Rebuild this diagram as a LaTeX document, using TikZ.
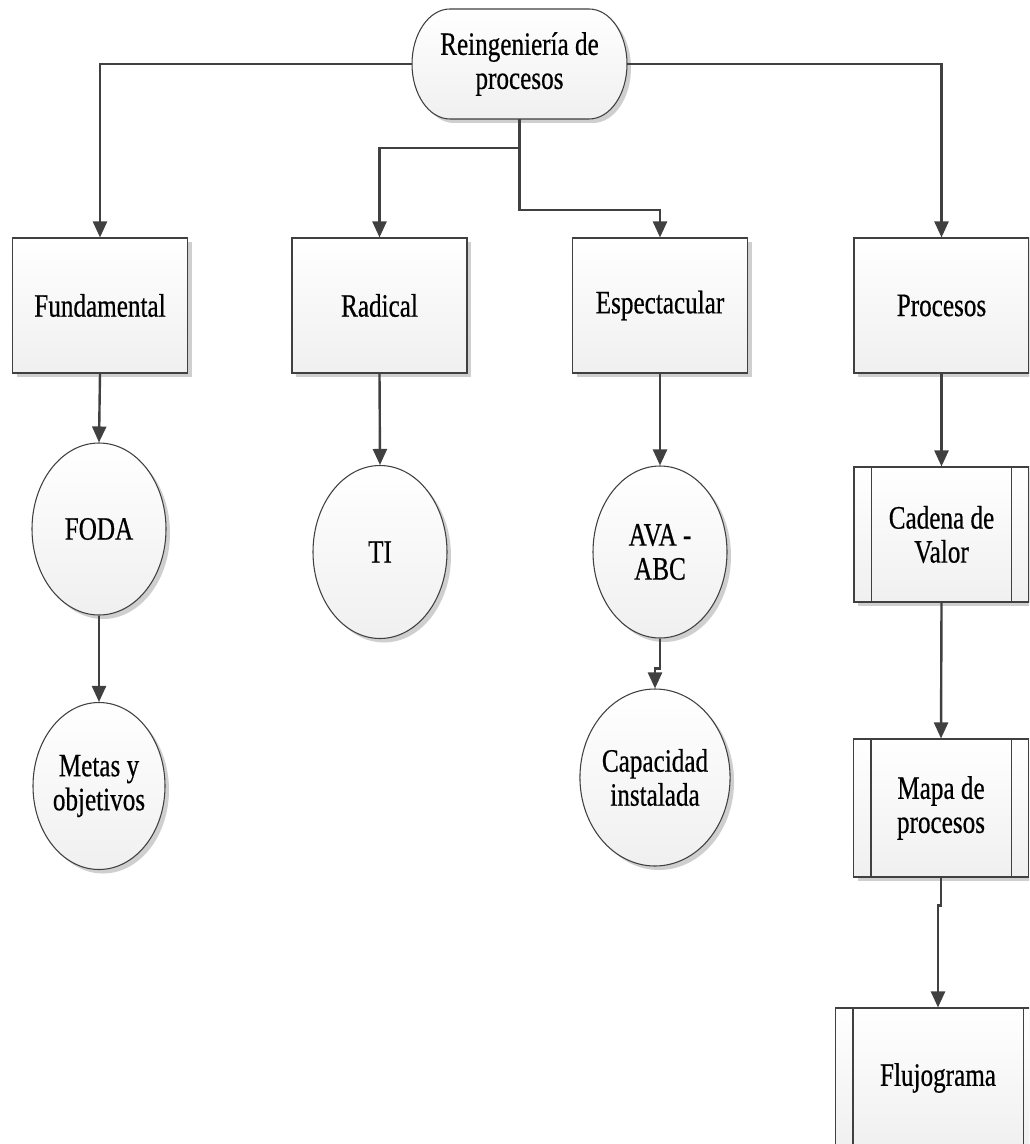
\documentclass[tikz,border=0pt]{standalone}
\usepackage{fontspec}
\setmainfont{Liberation Serif}[FakeStretch=0.77,FakeBold=0.5]
\usetikzlibrary{shapes.geometric,shadows,arrows.meta}
\definecolor{edge}{HTML}{404040}
\definecolor{shadowgray}{HTML}{CFCFCF}
\begin{document}
\begin{tikzpicture}[x=0.75pt,y=-0.75pt,
  every node/.style={font=\fontsize{24.5}{25.5}\selectfont, align=center, inner sep=0pt},
  shapeline/.style={draw=edge, line width=0.8pt, top color=white, bottom color=gray!12,
    drop shadow={shadow xshift=3pt, shadow yshift=-3pt, fill=shadowgray, opacity=1}},
  stepbox/.style={shapeline, rectangle, minimum width=131.25pt, minimum height=101.25pt},
  oval/.style={shapeline, ellipse},
  innerline/.style={draw=edge, line width=0.8pt},
  conn/.style={draw=edge, line width=1.8pt, -{Triangle[width=10.5pt,length=12pt]}},
  link/.style={draw=edge, line width=1.8pt}
]
\useasboundingbox (0,0) rectangle (1029,1144);
\clip (0,0) rectangle (1029,1144);

% terminal shape at the top
\path[shapeline] (450,9) -- (589,9)
  arc[start angle=90,end angle=-90,x radius=28.5pt,y radius=41.25pt]
  -- (450,119)
  arc[start angle=270,end angle=90,x radius=28.5pt,y radius=41.25pt] -- cycle;
\node (top) at (519.5,64) [minimum width=161.25pt, minimum height=82.5pt] {Reingeniería de\\procesos};

% second row
\node[stepbox] (fund) at (100,305.5) {Fundamental};
\node[stepbox] (rad)  at (379.5,305.5) {Radical};
\node[stepbox] (esp)  at (660,305.5) {Espectacular};
\node[stepbox] (proc) at (941.5,305.5) {Procesos};

% ovals
\node[oval, minimum width=100.5pt, minimum height=129pt] (foda) at (99,529) {FODA};
\node[oval, minimum width=99pt, minimum height=125.25pt] (metas) at (99,786) {Metas y\\objetivos};
\node[oval, minimum width=100.5pt, minimum height=129.75pt] (ti) at (380,552) {TI};
\node[oval, minimum width=100.5pt, minimum height=129pt] (ava) at (660,552) {AVA -\\ABC};
\node[oval, minimum width=112pt, minimum height=132.75pt] (cap) at (655,777.5) {Capacidad\\instalada};

% sub-process boxes
\node[stepbox] (cad)  at (941.5,534.5) {Cadena de\\Valor};
\node[stepbox, minimum height=103.5pt] (mapa) at (941,808) {Mapa de\\procesos};
\node[stepbox, minimum width=153.75pt, minimum height=105pt] (flu) at (938,1078) {Flujograma};
\foreach \n in {cad,mapa,flu}{
  \draw[innerline] ([xshift=13.5pt]\n.north west) -- ([xshift=13.5pt]\n.south west);
  \draw[innerline] ([xshift=-13.5pt]\n.north east) -- ([xshift=-13.5pt]\n.south east);
}

% connectors
\coordinate (j1) at (519.5,148);
\coordinate (j2) at (519.5,210);
\draw[conn] (top.west) -| (fund.north);
\draw[conn] (top.east) -| (proc.north);
\draw[link] (top.south) -- (j1);
\draw[conn] (j1) -| (rad.north);
\draw[conn] (j1) -- (j2) -| (esp.north);

\draw[conn] (fund.south) -- (foda.north);
\draw[conn] (foda.south) -- (metas.north);
\draw[conn] (rad.south) -- (ti.north);
\draw[conn] (esp.south) -- (ava.north);
\draw[conn] (ava.south) -- ++(0,30) -| (cap.north);
\draw[conn] (proc.south) -- (cad.north);
\draw[conn] (cad.south) -- (mapa.north);
\draw[conn] (mapa.south) -- ++(0,28) -| (flu.north);
\end{tikzpicture}
\end{document}
